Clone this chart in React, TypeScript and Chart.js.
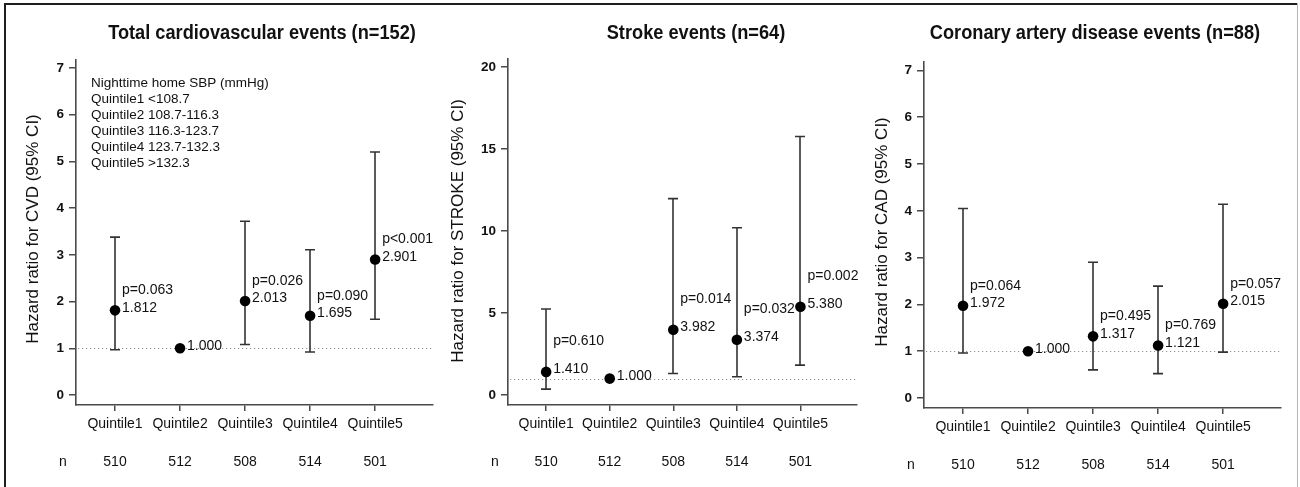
import React, { useEffect, useRef } from "react";
import { Chart, registerables } from "chart.js";

Chart.register(...registerables);

// ---------------- data ----------------
const quintiles = ["Quintile1", "Quintile2", "Quintile3", "Quintile4", "Quintile5"];
const nCounts = [510, 512, 508, 514, 501];
const legendLines = [
  "Nighttime home SBP (mmHg)",
  "Quintile1 <108.7",
  "Quintile2 108.7-116.3",
  "Quintile3 116.3-123.7",
  "Quintile4 123.7-132.3",
  "Quintile5 >132.3",
];

const cvdHR = [1.812, 1.0, 2.013, 1.695, 2.901];
const cvdLower = [0.97, null, 1.08, 0.92, 1.62];
const cvdUpper = [3.38, null, 3.72, 3.11, 5.2];
const cvdP = ["p=0.063", null, "p=0.026", "p=0.090", "p<0.001"];
const cvdTicks = [0, 1, 2, 3, 4, 5, 6, 7];

const strokeHR = [1.41, 1.0, 3.982, 3.374, 5.38];
const strokeLower = [0.36, null, 1.31, 1.11, 1.82];
const strokeUpper = [5.25, null, 11.98, 10.2, 15.77];
const strokeP = ["p=0.610", null, "p=0.014", "p=0.032", "p=0.002"];
const strokeTicks = [0, 5, 10, 15, 20];

const cadHR = [1.972, 1.0, 1.317, 1.121, 2.015];
const cadLower = [0.96, null, 0.6, 0.52, 0.98];
const cadUpper = [4.05, null, 2.9, 2.39, 4.14];
const cadP = ["p=0.064", null, "p=0.495", "p=0.769", "p=0.057"];
const cadTicks = [0, 1, 2, 3, 4, 5, 6, 7];

const referenceHR = 1;
const xRange = [-0.6, 4.89];
const cvdRange = [-0.214, 7.17];
const strokeRange = [-0.61, 20.5];
const cadRange = [-0.214, 7.18];

// ---------------- style / layout ----------------
const W_TOTAL = 1300;
const H = 487;
const FONT = "'Liberation Sans', Arial, Helvetica, sans-serif";
const TEXT = "#111";
const AXIS = "#4a4a4a";
const X_AXIS_H = 40;

type Panel = {
  id: string;
  title: string;
  yTitle: string;
  hr: number[];
  lower: (number | null)[];
  upper: (number | null)[];
  pLabels: (string | null)[];
  yTicks: number[];
  yRange: number[];
  legend: boolean;
  left: number;
  width: number;
  area: { l: number; r: number; t: number; b: number };
  titleX: number;
  yTitleX: number;
  yTitleY: number;
  pGap: number;
};

const panels: Panel[] = [
  {
    id: "cvd",
    title: "Total cardiovascular events (n=152)",
    yTitle: "Hazard ratio for CVD (95% CI)",
    hr: cvdHR,
    lower: cvdLower,
    upper: cvdUpper,
    pLabels: cvdP,
    yTicks: cvdTicks,
    yRange: cvdRange,
    legend: true,
    left: 0,
    width: 440,
    area: { l: 76, r: 433, t: 60, b: 405 },
    titleX: 262,
    yTitleX: 33,
    yTitleY: 229,
    pGap: 17.5,
  },
  {
    id: "stroke",
    title: "Stroke events (n=64)",
    yTitle: "Hazard ratio for STROKE (95% CI)",
    hr: strokeHR,
    lower: strokeLower,
    upper: strokeUpper,
    pLabels: strokeP,
    yTicks: strokeTicks,
    yRange: strokeRange,
    legend: false,
    left: 440,
    width: 430,
    area: { l: 508, r: 857, t: 59, b: 405 },
    titleX: 696,
    yTitleX: 458,
    yTitleY: 231,
    pGap: 28,
  },
  {
    id: "cad",
    title: "Coronary artery disease events (n=88)",
    yTitle: "Hazard ratio for CAD (95% CI)",
    hr: cadHR,
    lower: cadLower,
    upper: cadUpper,
    pLabels: cadP,
    yTicks: cadTicks,
    yRange: cadRange,
    legend: false,
    left: 870,
    width: 430,
    area: { l: 924, r: 1281, t: 62, b: 408 },
    titleX: 1095,
    yTitleX: 882,
    yTitleY: 232,
    pGap: 17.5,
  },
];

function makePlugin(p: Panel) {
  return {
    id: "forest-" + p.id,
    beforeDatasetsDraw(chart: any) {
      const { ctx, chartArea } = chart;
      const x = chart.scales.x;
      const y = chart.scales.y;
      ctx.save();
      // dotted reference line at HR = 1
      const yRef = Math.round(y.getPixelForValue(referenceHR)) + 0.5;
      ctx.strokeStyle = "#909090";
      ctx.lineWidth = 1;
      ctx.setLineDash([1.2, 2.8]);
      ctx.beginPath();
      ctx.moveTo(chartArea.left + 2, yRef);
      ctx.lineTo(chartArea.right, yRef);
      ctx.stroke();
      ctx.setLineDash([]);
      // CI whiskers
      ctx.strokeStyle = "#333";
      ctx.lineWidth = 1.6;
      p.hr.forEach((_, i) => {
        const lo = p.lower[i];
        const hi = p.upper[i];
        if (lo == null || hi == null) return;
        const px = Math.round(x.getPixelForValue(i));
        const pl = y.getPixelForValue(lo);
        const ph = y.getPixelForValue(hi);
        ctx.beginPath();
        ctx.moveTo(px, pl);
        ctx.lineTo(px, ph);
        ctx.moveTo(px - 5, pl);
        ctx.lineTo(px + 5, pl);
        ctx.moveTo(px - 5, ph);
        ctx.lineTo(px + 5, ph);
        ctx.stroke();
      });
      ctx.restore();
    },
    afterDraw(chart: any) {
      const { ctx, chartArea } = chart;
      const x = chart.scales.x;
      const y = chart.scales.y;
      ctx.save();
      ctx.fillStyle = TEXT;

      // title
      ctx.save();
      ctx.translate(p.titleX - p.left, 33);
      ctx.scale(0.91, 1);
      ctx.font = `bold 20px ${FONT}`;
      ctx.textAlign = "center";
      ctx.textBaseline = "middle";
      ctx.fillText(p.title, 0, 0);
      ctx.restore();

      // y axis title
      ctx.save();
      ctx.translate(p.yTitleX - p.left, p.yTitleY);
      ctx.rotate(-Math.PI / 2);
      ctx.font = `17px ${FONT}`;
      ctx.textAlign = "center";
      ctx.textBaseline = "middle";
      ctx.fillText(p.yTitle, 0, 0);
      ctx.restore();

      // legend block
      if (p.legend) {
        ctx.font = `13.5px ${FONT}`;
        ctx.textAlign = "left";
        ctx.textBaseline = "middle";
        legendLines.forEach((line, i) => {
          ctx.fillText(line, chartArea.left + 15, chartArea.top + 23 + i * 16);
        });
      }

      // value and p labels
      ctx.font = `14px ${FONT}`;
      ctx.textAlign = "left";
      ctx.textBaseline = "middle";
      p.hr.forEach((v, i) => {
        const px = x.getPixelForValue(i);
        const py = y.getPixelForValue(v);
        ctx.fillText(v.toFixed(3), px + 7, py - 2.5);
        const pl = p.pLabels[i];
        if (pl) ctx.fillText(pl, px + 7, py - 2.5 - p.pGap);
      });

      // n row
      ctx.font = `14px ${FONT}`;
      ctx.textAlign = "center";
      ctx.textBaseline = "middle";
      const ny = chartArea.bottom + 57;
      ctx.fillText("n", chartArea.left - 13, ny);
      nCounts.forEach((n, i) => {
        ctx.fillText(String(n), x.getPixelForValue(i), ny);
      });
      ctx.restore();
    },
  };
}

function makeConfig(p: Panel): any {
  const areaL = p.area.l - p.left;
  const areaR = p.area.r - p.left;
  return {
    type: "scatter",
    data: {
      datasets: [
        {
          data: p.hr.map((v, i) => ({ x: i, y: v })),
          pointRadius: 5.3,
          pointBackgroundColor: "#000",
          pointBorderWidth: 0,
          showLine: false,
        },
      ],
    },
    options: {
      responsive: false,
      maintainAspectRatio: false,
      animation: false,
      events: [],
      layout: {
        padding: {
          left: 0,
          right: p.width - areaR,
          top: p.area.t,
          bottom: H - p.area.b - X_AXIS_H,
        },
      },
      plugins: {
        legend: { display: false },
        tooltip: { enabled: false },
        title: { display: false },
      },
      scales: {
        x: {
          type: "linear",
          min: xRange[0],
          max: xRange[1],
          afterBuildTicks: (s: any) => {
            s.ticks = quintiles.map((_, i) => ({ value: i }));
          },
          afterFit: (s: any) => {
            s.height = X_AXIS_H;
          },
          ticks: {
            callback: (v: any) => quintiles[v] ?? "",
            autoSkip: false,
            maxRotation: 0,
            minRotation: 0,
            font: { family: FONT, size: 14 },
            color: TEXT,
            padding: 5,
          },
          grid: {
            display: true,
            drawOnChartArea: false,
            drawTicks: true,
            tickLength: 6,
            color: AXIS,
            lineWidth: 1.5,
          },
          border: { display: true, color: AXIS, width: 1.6 },
        },
        y: {
          type: "linear",
          min: p.yRange[0],
          max: p.yRange[1],
          afterBuildTicks: (s: any) => {
            s.ticks = p.yTicks.map((v) => ({ value: v }));
          },
          afterFit: (s: any) => {
            s.width = areaL;
          },
          ticks: {
            callback: (v: any) => String(v),
            font: { family: FONT, size: 13.5, weight: "bold" },
            color: TEXT,
            padding: 5,
          },
          grid: {
            display: true,
            drawOnChartArea: false,
            drawTicks: true,
            tickLength: 7,
            color: AXIS,
            lineWidth: 1.5,
          },
          border: { display: true, color: AXIS, width: 1.6 },
        },
      },
    },
    plugins: [makePlugin(p)],
  };
}

function PanelChart({ p }: { p: Panel }) {
  const ref = useRef<HTMLCanvasElement>(null);
  useEffect(() => {
    if (!ref.current) return;
    const chart = new Chart(ref.current, makeConfig(p));
    return () => chart.destroy();
  }, [p]);
  return (
    <canvas
      ref={ref}
      width={p.width}
      height={H}
      style={{ position: "absolute", left: p.left, top: 0, width: p.width, height: H }}
    />
  );
}

export default function App() {
  return (
    <div
      style={{
        position: "fixed",
        left: 0,
        top: 0,
        width: W_TOTAL,
        height: H,
        background: "#fff",
        overflow: "hidden",
      }}
    >
      {panels.map((p) => (
        <PanelChart key={p.id} p={p} />
      ))}
      <div style={{ position: "absolute", left: 4, top: 3, width: 2, height: H - 3, background: "#1e1e1e", zIndex: 2 }} />
      <div style={{ position: "absolute", left: 4, top: 3, width: 1294, height: 2, background: "#1e1e1e", zIndex: 2 }} />
      <div style={{ position: "absolute", left: 1297, top: 3, width: 1, height: H - 3, background: "#b5b5b5", zIndex: 2 }} />
    </div>
  );
}
